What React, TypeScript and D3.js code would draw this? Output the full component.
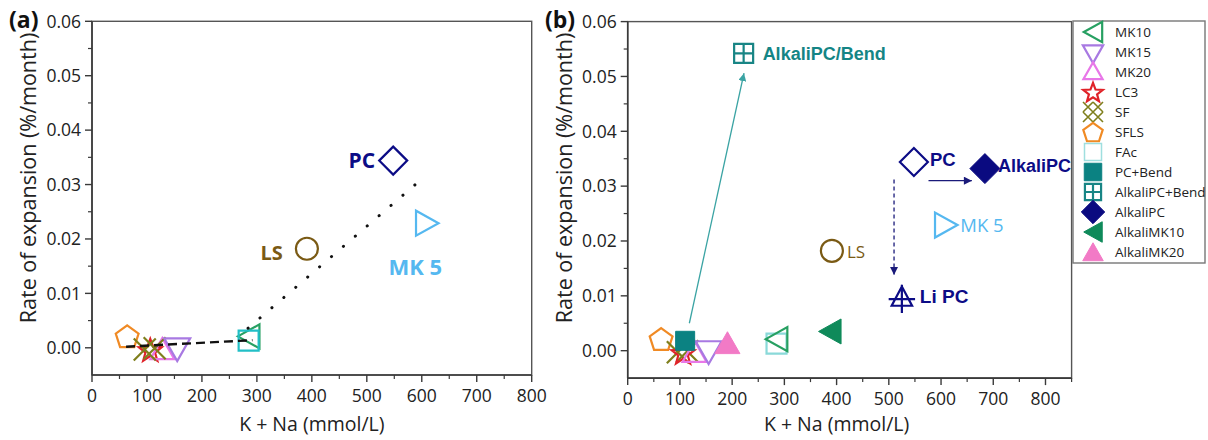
import React from 'react';
import * as d3 from 'd3';

const W = 1208;
const H = 440;

// ---------- data: [K + Na (mmol/L), rate of expansion (%/month)] ----------
const mk10 = [[285, 0.0021]];
const mk15 = [[155, -0.0003]];
const mk20 = [[128, -0.0002]];
const lc3 = [[106, -0.0004]];
const sf = [[96, -0.0003], [114, -0.0001]];
const sfls = [[64, 0.0021]];
const fac = [[285, 0.0013]];
const pc = [[548, 0.0344]];
const ls = [[391, 0.0182]];
const mk5 = [[610, 0.0229]];
const pcBend = [[110, 0.0018]];
const alkaliPcBend = [[222, 0.0542]];
const alkaliPc = [[684, 0.0332]];
const alkaliMk10 = [[387, 0.0035]];
const alkaliMk20 = [[191, 0.0014]];
const liPc = [[525, 0.0095]];

// trend lines in panel (a)
const dashedFit = [[62, 0.0002], [292, 0.0014]];
const dottedFit = [[284, 0.0036], [593, 0.0304]];

// annotation arrows in panel (b): [from, to]
const arrowBend = [[118, 0.005], [222.7, 0.0506]];
const arrowAlkali = [[576, 0.031], [659, 0.031]];
const arrowLi = [[510, 0.0312], [510, 0.0138]];

const xTicks = [0, 100, 200, 300, 400, 500, 600, 700, 800];
const xMinor = [50, 150, 250, 350, 450, 550, 650, 750];
const yTicks = [0, 0.01, 0.02, 0.03, 0.04, 0.05, 0.06];
const yMinor = [0.005, 0.015, 0.025, 0.035, 0.045, 0.055];

const legendNames = ['MK10', 'MK15', 'MK20', 'LC3', 'SF', 'SFLS', 'FAc', 'PC+Bend', 'AlkaliPC+Bend', 'AlkaliPC', 'AlkaliMK10', 'AlkaliMK20'];

// ---------- styles ----------
const NAVY = '#0c0c86';
const FONT = "'Open Sans', 'DejaVu Sans', sans-serif";
const BOLD = "'Liberation Sans', Arial, sans-serif";

type Sty = { shape: string; color: string; filled?: boolean; r: number; sw?: number };
const styles: Record<string, Sty> = {
  MK10: { shape: 'triL', color: '#27a062', r: 12 },
  MK15: { shape: 'triD', color: '#a879e2', r: 13 },
  MK20: { shape: 'triU', color: '#e877e8', r: 12 },
  LC3: { shape: 'star', color: '#e02228', r: 12 },
  SF: { shape: 'x', color: '#7f7f1c', r: 11 },
  SFLS: { shape: 'pentagon', color: '#f08a24', r: 12 },
  FAc: { shape: 'square', color: '#22bfc6', r: 10 },
  PC: { shape: 'diamond', color: NAVY, r: 14 },
  LS: { shape: 'circle', color: '#7a5a14', r: 11 },
  MK5: { shape: 'triR', color: '#55b8f0', r: 12.5 },
  'PC+Bend': { shape: 'square', color: '#0b8282', filled: true, r: 9.5 },
  'AlkaliPC+Bend': { shape: 'grid', color: '#188585', r: 9.5 },
  AlkaliPC: { shape: 'diamond', color: '#0a0a80', filled: true, r: 15 },
  AlkaliMK10: { shape: 'triL', color: '#0f8a5a', filled: true, r: 12.5 },
  AlkaliMK20: { shape: 'triU', color: '#f27ac6', filled: true, r: 12.5 },
  LiPC: { shape: 'triPlus', color: NAVY, r: 12 },
};

function shapePath(shape: string, r: number): string {
  const p = (pts: number[][]) => 'M' + pts.map((q) => q.join(',')).join('L') + 'Z';
  switch (shape) {
    case 'triL':
      return p([[-0.9 * r, 0], [0.9 * r, -r], [0.9 * r, r]]);
    case 'triR':
      return p([[0.9 * r, 0], [-0.9 * r, -r], [-0.9 * r, r]]);
    case 'triU':
      return p([[0, -0.9 * r], [r, 0.85 * r], [-r, 0.85 * r]]);
    case 'triD':
      return p([[0, 0.9 * r], [r, -0.85 * r], [-r, -0.85 * r]]);
    case 'diamond':
      return p([[0, -r], [r, 0], [0, r], [-r, 0]]);
    case 'square':
      return p([[-r, -r], [r, -r], [r, r], [-r, r]]);
    case 'grid':
      return p([[-r, -r], [r, -r], [r, r], [-r, r]]) + `M0,${-r}V${r}M${-r},0H${r}`;
    case 'circle':
      return `M${r},0A${r},${r} 0 1,1 ${-r},0A${r},${r} 0 1,1 ${r},0Z`;
    case 'pentagon':
      return p(d3.range(5).map((k) => {
        const a = -Math.PI / 2 + (k * 2 * Math.PI) / 5;
        return [r * Math.cos(a), r * Math.sin(a) + 1];
      }));
    case 'star':
      return p(d3.range(10).map((k) => {
        const a = -Math.PI / 2 + (k * Math.PI) / 5;
        const rr = k % 2 === 0 ? r : r * 0.42;
        return [rr * Math.cos(a), rr * Math.sin(a) + 1];
      }));
    case 'x':
      return `M${-r},${-r}L${r},${r}M${-r},${r}L${r},${-r}`;
    case 'lattice': {
      const h = r / 2;
      let s = '';
      [[-h, -h], [h, -h], [-h, h], [h, h]].forEach(([cx, cy]) => {
        s += `M${cx - h},${cy - h}L${cx + h},${cy + h}M${cx - h},${cy + h}L${cx + h},${cy - h}`;
      });
      return s;
    }
    case 'triPlus':
      return p([[0, -r], [-0.85 * r, 0.6 * r], [0.85 * r, 0.6 * r]]) +
        `M${-1.1 * r},${0.05 * r}H${1.1 * r}M0,${-1.15 * r}V${1.2 * r}`;
    default:
      return '';
  }
}

function Marker({ x, y, sty, scale = 1, color }: { x: number; y: number; sty: Sty; scale?: number; color?: string }) {
  const c = color || sty.color;
  const filled = !!sty.filled;
  return (
    <path
      d={shapePath(sty.shape, sty.r * scale)}
      transform={`translate(${x},${y})`}
      fill={filled ? c : 'none'}
      stroke={c}
      strokeWidth={filled ? 1 : sty.sw || 2.2}
      strokeLinejoin="miter"
    />
  );
}

type Panel = { left: number; right: number; top: number; bottom: number; xMax: number };
const panelA: Panel = { left: 92, right: 531.7, top: 21.3, bottom: 375, xMax: 800 };
const panelB: Panel = { left: 627.7, right: 1071.6, top: 21.6, bottom: 378.1, xMax: 850 };

function scales(p: Panel) {
  const x = d3.scaleLinear().domain([0, p.xMax]).range([p.left, p.right]);
  const y = d3.scaleLinear().domain([-0.005, 0.06]).range([p.bottom, p.top]);
  return { x, y };
}

function Axes({ p, tag, tagX }: { p: Panel; tag: string; tagX: number }) {
  const { x, y } = scales(p);
  const axisC = '#3a3a3a';
  const fmt = d3.format('.2f');
  const minorX = xMinor.concat(p.xMax > 800 ? [850] : []);
  return (
    <g>
      <rect x={p.left} y={p.top} width={p.right - p.left} height={p.bottom - p.top} fill="none" stroke="#555" strokeWidth={1.4} />
      <line x1={p.left} x2={p.left} y1={p.top} y2={p.bottom} stroke={axisC} strokeWidth={1.6} />
      <line x1={p.left} x2={p.right} y1={p.bottom} y2={p.bottom} stroke={axisC} strokeWidth={1.6} />
      {xTicks.map((t) => (
        <g key={'xt' + t}>
          <line x1={x(t)} x2={x(t)} y1={p.bottom} y2={p.bottom + 7} stroke={axisC} strokeWidth={1.4} />
          <text x={x(t)} y={p.bottom + 27} textAnchor="middle" fontFamily={FONT} fontSize={17.5} fill="#222">{t}</text>
        </g>
      ))}
      {minorX.map((t) => (
        <line key={'xm' + t} x1={x(t)} x2={x(t)} y1={p.bottom} y2={p.bottom + 4} stroke={axisC} strokeWidth={1.2} />
      ))}
      {yTicks.map((t) => (
        <g key={'yt' + t}>
          <line x1={p.left - 7} x2={p.left} y1={y(t)} y2={y(t)} stroke={axisC} strokeWidth={1.4} />
          <text x={p.left - 11} y={y(t)} dy="0.36em" textAnchor="end" fontFamily={FONT} fontSize={17.5} fill="#222">{fmt(t)}</text>
        </g>
      ))}
      {yMinor.map((t) => (
        <line key={'ym' + t} x1={p.left - 4} x2={p.left} y1={y(t)} y2={y(t)} stroke={axisC} strokeWidth={1.2} />
      ))}
      <text x={(x(0) + x(800)) / 2} y={431} textAnchor="middle" fontFamily={FONT} fontSize={19.5} fill="#222">K + Na (mmol/L)</text>
      <text transform={`translate(${p.left - 56},${178}) rotate(-90)`} textAnchor="middle" fontFamily={FONT} fontSize={21.5} fill="#222">Rate of expansion (%/month)</text>
      <text x={tagX} y={28} fontFamily={FONT} fontWeight={700} fontSize={23} fill="#111">{tag}</text>
    </g>
  );
}

function Series({ p, data, name, color }: { p: Panel; data: number[][]; name: string; color?: string }) {
  const { x, y } = scales(p);
  return (
    <g>
      {data.map((d, i) => (
        <Marker key={i} x={x(d[0])} y={y(d[1])} sty={styles[name]} color={color} />
      ))}
    </g>
  );
}

function Label({ p, pt, dx, dy, text, color, size, family, weight, anchor = 'start' }: any) {
  const { x, y } = scales(p);
  return (
    <text x={x(pt[0]) + dx} y={y(pt[1]) + dy} dy="0.36em" textAnchor={anchor} fontFamily={family} fontWeight={weight} fontSize={size} fill={color}>
      {text}
    </text>
  );
}

function PanelA() {
  const p = panelA;
  const { x, y } = scales(p);
  const line = d3.line<number[]>().x((d) => x(d[0])).y((d) => y(d[1]));
  return (
    <g>
      <Axes p={p} tag="(a)" tagX={9} />
      <Series p={p} data={sfls} name="SFLS" />
      <Series p={p} data={lc3} name="LC3" />
      <Series p={p} data={mk20} name="MK20" />
      <Series p={p} data={sf} name="SF" />
      <Series p={p} data={mk15} name="MK15" />
      <Series p={p} data={mk10} name="MK10" />
      <Series p={p} data={fac} name="FAc" />
      <Series p={p} data={ls} name="LS" />
      <Series p={p} data={pc} name="PC" />
      <Series p={p} data={mk5} name="MK5" />
      <path d={line(dashedFit) || ''} fill="none" stroke="#111" strokeWidth={2.4} strokeDasharray="9,5" />
      <path d={line(dottedFit) || ''} fill="none" stroke="#111" strokeWidth={3} strokeDasharray="0.1,15.6" strokeLinecap="round" />
      <Label p={p} pt={pc[0]} dx={-18} dy={0} text="PC" color={NAVY} size={21} family={FONT} weight={700} anchor="end" />
      <Label p={p} pt={ls[0]} dx={-24} dy={4} text="LS" color="#7a5a14" size={20} family={FONT} weight={700} anchor="end" />
      <Label p={p} pt={mk5[0]} dx={-12} dy={44} text="MK 5" color="#55b8f0" size={22} family={FONT} weight={700} anchor="middle" />
    </g>
  );
}

function Arrow({ p, seg, color, dashed, id }: any) {
  const { x, y } = scales(p);
  return (
    <line
      x1={x(seg[0][0])}
      y1={y(seg[0][1])}
      x2={x(seg[1][0])}
      y2={y(seg[1][1])}
      stroke={color}
      strokeWidth={1.3}
      strokeDasharray={dashed ? '4,3' : undefined}
      markerEnd={`url(#${id})`}
    />
  );
}

function PanelB() {
  const p = panelB;
  return (
    <g>
      <Axes p={p} tag="(b)" tagX={545} />
      <Series p={p} data={sfls} name="SFLS" />
      <Series p={p} data={sf} name="SF" />
      <Series p={p} data={lc3} name="LC3" />
      <Series p={p} data={mk20} name="MK20" />
      <Series p={p} data={mk15} name="MK15" />
      <Series p={p} data={pcBend} name="PC+Bend" />
      <Series p={p} data={alkaliMk20} name="AlkaliMK20" />
      <Series p={p} data={fac} name="FAc" color="#8ad9d9" />
      <Series p={p} data={mk10} name="MK10" />
      <Series p={p} data={alkaliMk10} name="AlkaliMK10" />
      <Series p={p} data={ls} name="LS" />
      <Series p={p} data={liPc} name="LiPC" />
      <Series p={p} data={mk5} name="MK5" />
      <Series p={p} data={pc} name="PC" />
      <Series p={p} data={alkaliPc} name="AlkaliPC" />
      <Series p={p} data={alkaliPcBend} name="AlkaliPC+Bend" />
      <Arrow p={p} seg={arrowBend} color="#3aa3a3" id="ahTeal" />
      <Arrow p={p} seg={arrowAlkali} color="#1a1a7a" id="ahNavy" />
      <Arrow p={p} seg={arrowLi} color="#1a1a7a" dashed id="ahNavy" />
      <Label p={p} pt={alkaliPcBend[0]} dx={19} dy={0} text="AlkaliPC/Bend" color="#148585" size={18} family={BOLD} weight={700} />
      <Label p={p} pt={pc[0]} dx={16} dy={-3} text="PC" color={NAVY} size={18.5} family={BOLD} weight={700} />
      <Label p={p} pt={alkaliPc[0]} dx={13} dy={-3} text="AlkaliPC" color={NAVY} size={18} family={BOLD} weight={700} />
      <Label p={p} pt={liPc[0]} dx={18} dy={-2} text="Li PC" color={NAVY} size={19} family={BOLD} weight={700} />
      <Label p={p} pt={mk5[0]} dx={14} dy={0} text="MK 5" color="#55b8f0" size={18.5} family={FONT} weight={400} />
      <Label p={p} pt={ls[0]} dx={15} dy={1} text="LS" color="#7a5a14" size={17} family={FONT} weight={400} />
    </g>
  );
}

function Legend() {
  const x0 = 1073, y0 = 21, w = 132, h = 242;
  const legendStyle = (n: string): Sty => {
    const s = styles[n];
    if (n === 'SF') return { ...s, shape: 'lattice', r: 10, sw: 1.6 };
    if (n === 'FAc') return { ...s, color: '#9fdfdf', sw: 1.5 };
    return s;
  };
  const scaleFor: Record<string, number> = {
    MK10: 0.85, MK15: 0.78, MK20: 0.8, LC3: 0.85, SF: 1, SFLS: 0.85, FAc: 0.85,
    'PC+Bend': 0.92, 'AlkaliPC+Bend': 0.85, AlkaliPC: 0.78, AlkaliMK10: 0.82, AlkaliMK20: 0.82,
  };
  return (
    <g>
      <rect x={x0} y={y0} width={w} height={h} fill="white" stroke="#777" strokeWidth={1.4} />
      {legendNames.map((n, i) => {
        const cy = 32 + i * 20;
        const s = legendStyle(n);
        const dy = n === 'MK15' ? 2 : n === 'MK20' ? -1 : 0;
        return (
          <g key={n}>
            <Marker x={1093} y={cy + dy} sty={s} scale={scaleFor[n]} />
            <text x={1115} y={cy} dy="0.36em" fontFamily={FONT} fontSize={13.5} fill="#222">{n}</text>
          </g>
        );
      })}
    </g>
  );
}

export default function App() {
  return (
    <div style={{ position: 'absolute', left: 0, top: 0 }}>
      <svg width={W} height={H} viewBox={`0 0 ${W} ${H}`} style={{ display: 'block', background: 'white' }}>
        <defs>
          <marker id="ahTeal" viewBox="0 0 10 10" refX="10" refY="5" markerWidth="8" markerHeight="8" markerUnits="userSpaceOnUse" orient="auto">
            <path d="M0,0L10,5L0,10Z" fill="#3aa3a3" />
          </marker>
          <marker id="ahNavy" viewBox="0 0 10 10" refX="10" refY="5" markerWidth="9" markerHeight="8" markerUnits="userSpaceOnUse" orient="auto">
            <path d="M0,0L10,5L0,10Z" fill="#1a1a7a" />
          </marker>
        </defs>
        <PanelA />
        <PanelB />
        <Legend />
      </svg>
    </div>
  );
}
